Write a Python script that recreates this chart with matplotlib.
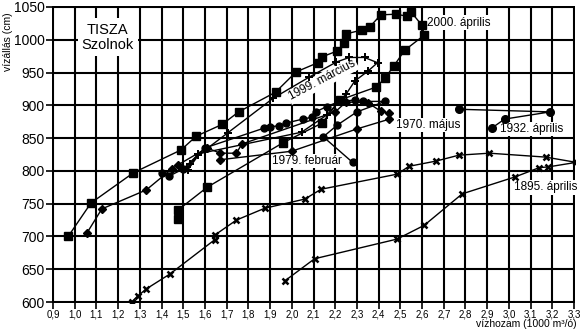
import matplotlib
matplotlib.use("Agg")
import matplotlib.pyplot as plt

plt.rcParams["font.family"] = ["Liberation Sans", "DejaVu Sans"]

# 2000. április (négyzet)
x2000 = [1.475, 1.475, 1.61, 1.96, 2.14, 2.22, 2.39, 2.43, 2.47, 2.52, 2.61, 2.60, 2.55, 2.53,
         2.48, 2.41, 2.36, 2.325, 2.25, 2.24, 2.21, 2.14, 2.12, 2.02, 1.925, 1.755, 1.68, 1.56,
         1.49, 1.27, 1.075, 0.97]
y2000 = [726, 740, 775, 843, 873, 908, 928, 942, 960, 984, 1007, 1022, 1042, 1036,
         1039, 1038, 1020, 1015, 1009, 995, 983, 974, 965, 951, 920, 890, 871, 853,
         832, 797, 751, 700]

# 1999. március (kereszt)
x1999 = [1.50, 1.53, 1.57, 2.045, 2.16, 2.25, 2.29, 2.35, 2.395, 2.335, 2.265, 2.205, 2.08,
         1.915, 1.705, 1.57, 1.52]
y1999 = [803, 810, 826, 859, 885, 917, 937, 952, 965, 973, 973, 966, 943,
         911, 858, 824, 801]

# 1970. május (rombusz)
x1970 = [1.056, 1.125, 1.33, 1.447, 1.475, 1.61, 1.67, 1.745, 1.77, 2.20, 2.25, 2.35, 2.41,
         2.45, 2.45, 2.30, 2.00, 1.67]
y1970 = [705, 742, 771, 803, 809, 835, 827, 827, 841, 890, 905, 904, 891,
         888, 879, 864, 830, 817]

# 1979. február (kör)
x1979 = [1.40, 1.435, 1.50, 1.60, 1.87, 1.90, 1.94, 1.975, 2.05, 2.095, 2.11, 2.16, 2.22,
         2.29, 2.33, 2.43, 2.30, 2.21, 2.145, 2.28]
y1979 = [797, 792, 803, 835, 865, 867, 869, 873, 879, 882, 890, 898, 906,
         908, 906, 906, 890, 870, 852, 813]

# 1932. április (kör)
x1932 = [2.77, 3.19, 2.98, 2.92]
y1932 = [894, 890, 879, 865]

# 1895. április (x)
x1895 = [1.967, 2.105, 2.485, 2.61, 2.785, 3.03, 3.14, 3.18, 3.31, 3.17, 2.91, 2.77, 2.665,
         2.54, 2.485, 2.135, 2.06, 1.875, 1.745, 1.645, 1.645, 1.44, 1.33, 1.29, 1.262]
y1895 = [632, 666, 696, 717, 765, 791, 805, 806, 813, 821, 827, 824, 815,
         807, 795, 772, 757, 743, 725, 702, 695, 643, 620, 609, 600]

xticks = [0.9 + 0.1 * i for i in range(25)]
xlabels = [("%.1f" % v).replace(".", ",") for v in xticks]
yticks = list(range(600, 1051, 50))

fig = plt.figure(figsize=(5.83, 3.32), dpi=100)
ax = fig.add_axes([52.1 / 583, 29 / 332, (574.9 - 52.1) / 583, (326 - 29) / 332])

kw = dict(color="black", linewidth=1.0, markeredgecolor="black", markerfacecolor="black", zorder=3)
ax.plot(x2000, y2000, marker="s", markersize=5.5, **kw)
ax.plot(x1999, y1999, marker="P", markersize=6, markeredgewidth=0, color="black",
        markerfacecolor="black", linewidth=1.0, zorder=3)
ax.plot(x1970, y1970, marker="D", markersize=4, **kw)
ax.plot(x1979, y1979, marker="o", markersize=5, **kw)
ax.plot(x1932, y1932, marker="o", markersize=5.5, **kw)
ax.plot(x1895, y1895, marker="x", markersize=4.5, markeredgewidth=1.8, color="black",
        linewidth=1.0, zorder=3)

ax.set_xlim(0.896, 3.304)
ax.set_ylim(598.5, 1051.5)
ax.set_xticks(xticks)
ax.set_xticklabels(xlabels, fontsize=7)
ax.set_yticks(yticks)
ax.set_yticklabels([str(v) for v in yticks], fontsize=10)
ax.tick_params(direction="out", length=4, width=1.2, color="black")
ax.tick_params(axis="x", pad=0.5)
ax.tick_params(axis="y", pad=1.5)

for s in ax.spines.values():
    s.set_visible(False)
ax.grid(True, color="black", linewidth=1.5, zorder=0)
ax.set_axisbelow(True)

# feliratok fehér háttérrel
box = dict(facecolor="white", edgecolor="none", pad=1.0)
ax.text(1.153, 1004, "TISZA\nSzolnok", fontsize=10.5, ha="center", va="center",
        multialignment="center", linespacing=1.1, zorder=2,
        bbox=dict(facecolor="white", edgecolor="none", pad=3))
ax.text(2.624, 1026, "2000. április", fontsize=8.5, ha="left", va="center", bbox=box, zorder=2)
ax.text(2.141, 938, "1999. március", fontsize=8.5, ha="center", va="center",
        rotation=28, rotation_mode="anchor", bbox=box, zorder=2)
ax.text(2.482, 870, "1970. május", fontsize=8.5, ha="left", va="center", bbox=box, zorder=2)
ax.text(2.96, 864, "1932. április", fontsize=8.5, ha="left", va="center", bbox=box, zorder=2)
ax.text(1.911, 815, "1979. február", fontsize=8.5, ha="left", va="center", bbox=box, zorder=2)
ax.text(3.024, 775, "1895. április", fontsize=8.5, ha="left", va="center", bbox=box, zorder=2)

fig.text(8 / 583, 1 - 42 / 332, "vízállás (cm)", rotation=90, fontsize=7.5,
         ha="center", va="center")
fig.text(577 / 583, 1 - 324 / 332, "vízhozam (1000 m³/ó)", fontsize=7.5,
         ha="right", va="center")

plt.savefig("out.png", dpi=100)
